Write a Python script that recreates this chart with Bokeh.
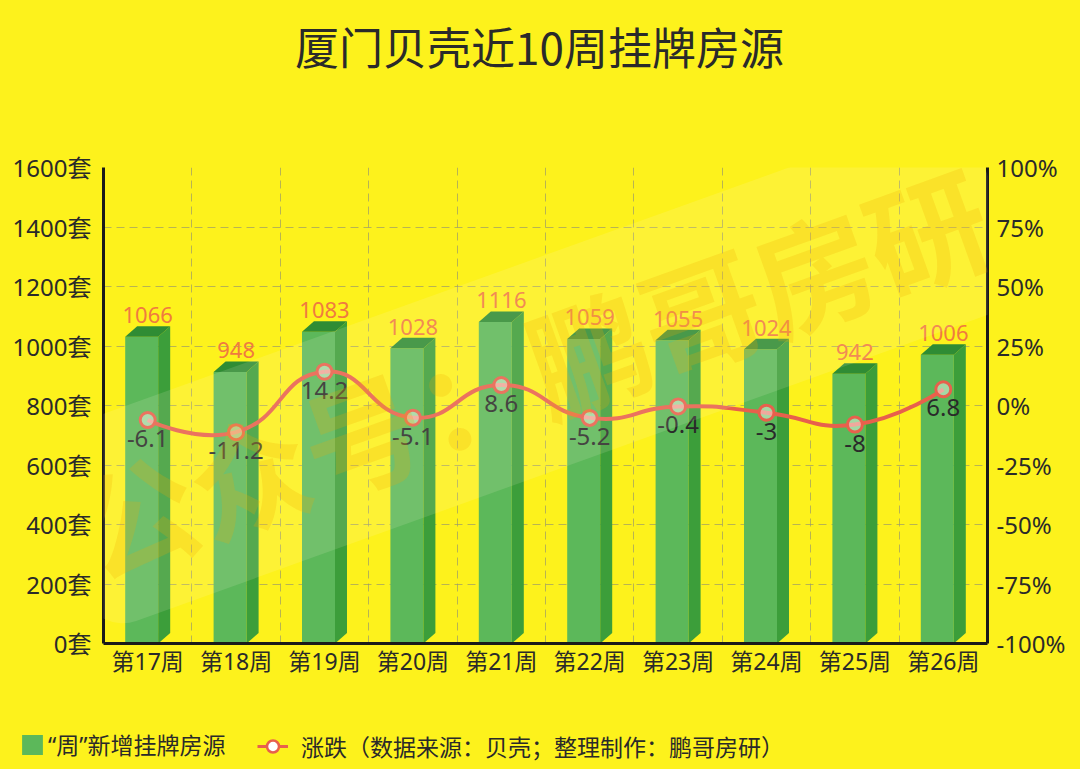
import numpy as np
from bokeh.plotting import figure
from bokeh.models import (Range1d, LinearAxis, FixedTicker, Label, Legend, LegendItem)
from bokeh.core.properties import value
from bokeh.embed import file_html
from bokeh.resources import INLINE

# ---------------- data ----------------
title_text = "厦门贝壳近10周挂牌房源"
weeks = ["第17周", "第18周", "第19周", "第20周", "第21周",
         "第22周", "第23周", "第24周", "第25周", "第26周"]
listings = [1066, 948, 1083, 1028, 1116, 1059, 1055, 1024, 942, 1006]
change_pct = [-6.1, -11.2, 14.2, -5.1, 8.6, -5.2, -0.4, -3, -8, 6.8]
left_ticks = [0, 200, 400, 600, 800, 1000, 1200, 1400, 1600]
right_ticks = [-100, -75, -50, -25, 0, 25, 50, 75, 100]
bar_legend = "“周”新增挂牌房源"
line_legend = "涨跌（数据来源：贝壳；整理制作：鹏哥房研）"
watermark = "公众号：鹏哥房研"

# ---------------- style ----------------
FONT = "Noto Sans, Noto Sans CJK SC"
CJK = "Noto Sans CJK SC"
BG = "#fdf21c"
FRONT = "#5cb85a"
SIDE = "#3c9e3a"
TOP = "#2f8c34"
LINE = "#e8604c"
BAR_LABEL = "#f07a40"
TEXT = "#2a2a2a"
AXIS = "#1a1a1a"

W = 1080
H_TITLE, H_MAIN, H_LEG = 110, 590, 69
ML, MR, MT = 103, 93, 57
frame_w = W - ML - MR
frame_h = 476
MB = H_MAIN - MT - frame_h


def plain_fig(h):
    f = figure(width=W, height=h, output_backend="svg", toolbar_location=None,
               x_range=Range1d(0, W), y_range=Range1d(0, h),
               x_axis_type=None, y_axis_type=None,
               min_border_left=0, min_border_right=0, min_border_top=0, min_border_bottom=0)
    f.background_fill_color = BG
    f.border_fill_color = BG
    f.outline_line_color = None
    f.grid.visible = False
    return f


# ---------------- title ----------------
pt = plain_fig(H_TITLE)
pt.add_layout(Label(x=539, y=H_TITLE - 45, text=title_text, text_align="center",
                    text_baseline="middle", text_font=CJK, text_font_size="44px",
                    text_color=TEXT))

# ---------------- main chart ----------------
p = figure(width=W, height=H_MAIN, output_backend="svg", toolbar_location=None,
           x_range=Range1d(-0.5, 9.5), y_range=Range1d(0, 1600),
           min_border_left=ML, min_border_right=MR, min_border_top=MT, min_border_bottom=MB)
p.extra_y_ranges = {"pct": Range1d(-100, 100)}
p.background_fill_color = BG
p.border_fill_color = BG
p.outline_line_color = None

n = len(weeks)
xs_idx = np.arange(n)
p.xaxis.ticker = FixedTicker(ticks=list(range(n)))
p.xaxis.major_label_overrides = {i: w for i, w in enumerate(weeks)}
p.yaxis.ticker = FixedTicker(ticks=left_ticks)
p.yaxis.major_label_overrides = {v: f"{v}套" for v in left_ticks}
ra = LinearAxis(y_range_name="pct", ticker=FixedTicker(ticks=right_ticks),
                major_label_overrides={v: f"{v}%" for v in right_ticks})
p.add_layout(ra, "right")
for ax, so, fs in [(p.xaxis[0], -5, "23px"), (p.yaxis[0], 6, "24px"), (ra, 3, "24px")]:
    ax.axis_line_color = AXIS
    ax.axis_line_width = 3
    ax.major_tick_line_color = None
    ax.minor_tick_line_color = None
    ax.major_label_text_font = FONT
    ax.major_label_text_font_size = fs
    ax.major_label_text_color = TEXT
    ax.major_label_standoff = so

p.xgrid.ticker = FixedTicker(ticks=[i + 0.5 for i in range(n - 1)])
p.ygrid.ticker = FixedTicker(ticks=left_ticks[1:])
for g in [p.xgrid[0], p.ygrid[0]]:
    g.grid_line_color = "#9a9a6a"
    g.grid_line_alpha = 0.7
    g.grid_line_dash = "8 5"
    g.grid_line_width = 1

# 3D bars
px_x = 10.0 / frame_w
px_y = 1600.0 / frame_h
dx = 12 * px_x
dy = 10.5 * px_y
half_front = 33 * px_x
v = np.array(listings, dtype=float)
x0 = xs_idx - (half_front + dx) / 2
x1 = x0 + half_front

front_xs = [[a, b, b, a] for a, b in zip(x0, x1)]
front_ys = [[0, 0, t - dy, t - dy] for t in v]
side_xs = [[b, b + dx, b + dx, b] for b in x1]
side_ys = [[0, dy, t, t - dy] for t in v]
top_xs = [[a, a + dx, b + dx, b] for a, b in zip(x0, x1)]
top_ys = [[t - dy, t, t, t - dy] for t in v]

p.patches(front_xs, front_ys, fill_color=FRONT, line_color=None)
p.patches(side_xs, side_ys, fill_color=SIDE, line_color=None)
p.patches(top_xs, top_ys, fill_color=TOP, line_color=None)

p.text(x=xs_idx, y=v, text=[str(t) for t in listings], text_align="center",
       text_baseline="bottom", y_offset=-3, text_font=value(FONT),
       text_font_size="22px", text_color=BAR_LABEL)

# smooth line (bezier segments from data, echarts-like smoothing)
ppx = frame_w / 10.0
ppy = frame_h / 200.0
pts = np.column_stack([xs_idx.astype(float), np.array(change_pct, dtype=float)])
smooth = 0.5
cin = pts.copy()
cout = pts.copy()
for i in range(1, n - 1):
    prev, cur, nxt = pts[i - 1], pts[i], pts[i + 1]
    vec = nxt - prev
    d0 = np.hypot((cur[0] - prev[0]) * ppx, (cur[1] - prev[1]) * ppy)
    d1 = np.hypot((nxt[0] - cur[0]) * ppx, (nxt[1] - cur[1]) * ppy)
    r = d0 / (d0 + d1)
    cin[i] = cur - vec * smooth * r
    cout[i] = cur + vec * smooth * (1 - r)
p.bezier(x0=pts[:-1, 0], y0=pts[:-1, 1], x1=pts[1:, 0], y1=pts[1:, 1],
         cx0=cout[:-1, 0], cy0=cout[:-1, 1], cx1=cin[1:, 0], cy1=cin[1:, 1],
         line_color=LINE, line_width=4, y_range_name="pct")
p.scatter(x=xs_idx, y=change_pct, marker="circle", size=15, line_color=LINE,
          line_width=3, fill_color="white", fill_alpha=0.45, y_range_name="pct")
p.text(x=xs_idx, y=change_pct, text=[f"{c:g}" for c in change_pct], text_align="center",
       text_baseline="top", y_offset=10, text_font=value(FONT), text_font_size="24px",
       text_color=TEXT, y_range_name="pct")

# watermark
p.add_layout(Label(x=4.33, y=920, text=watermark, angle=0.345, text_align="center",
                   text_baseline="middle", text_font=CJK, text_font_size="120px",
                   text_font_style="bold", text_color="#f0a800", text_alpha=0.22,
                   background_fill_color="#fffbe0", background_fill_alpha=0.13,
                   border_radius=40, padding=16))

# ---------------- legend strip ----------------
pl = plain_fig(H_LEG)
nan = float("nan")
bar_dummy = pl.patches(xs=[[nan]], ys=[[nan]], fill_color=FRONT, line_color=None)
line_dummy = pl.line(x=[nan], y=[nan], line_color=LINE, line_width=3)
mark_dummy = pl.scatter(x=[nan], y=[nan], marker="circle", size=12, line_color=LINE,
                        line_width=2.5, fill_color="white")
common = dict(padding=0, margin=0, label_text_font=FONT,
              label_text_font_size="23px", label_text_color=TEXT,
              background_fill_alpha=0, border_line_color=None)
pl.add_layout(Legend(items=[LegendItem(label=bar_legend, renderers=[bar_dummy])],
                     location=(19, 8), glyph_width=26, glyph_height=25,
                     label_standoff=3, **common))
pl.add_layout(Legend(items=[LegendItem(label=line_legend, renderers=[line_dummy, mark_dummy])],
                     location=(257, 6), glyph_width=31, glyph_height=30,
                     label_standoff=13, **common))

html = file_html([pt, p, pl], INLINE)
html = html.replace("</head>", f"<style>html, body {{ background-color: {BG} !important; }}</style></head>", 1)
open("out.html", "w").write(html)
